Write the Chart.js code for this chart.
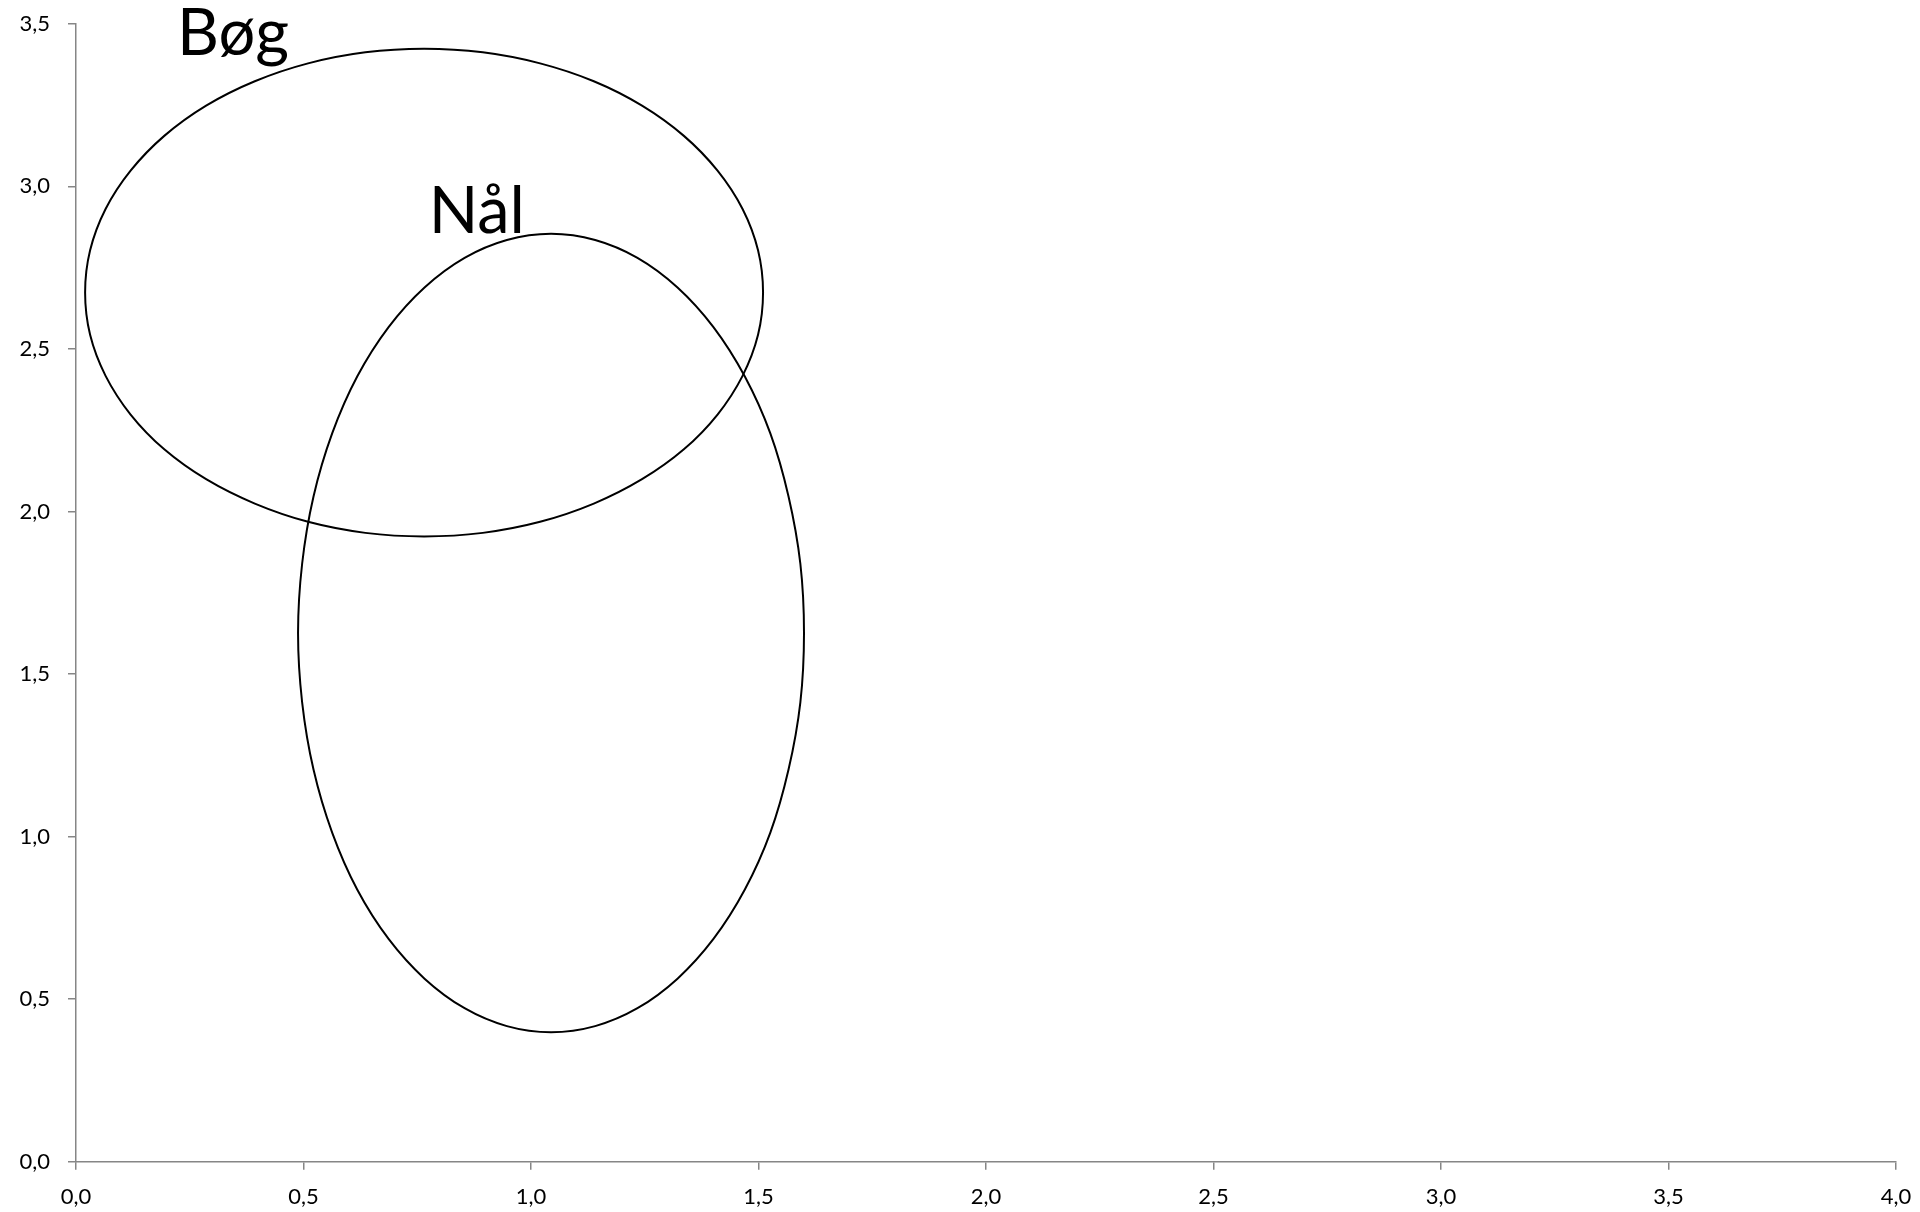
<!DOCTYPE html>
<html>
<head>
<meta charset="utf-8">
<script src="https://cdn.jsdelivr.net/npm/chart.js@4"></script>
<style>
html,body{margin:0;padding:0;background:#fff;}
#wrap{width:1920px;height:1212px;position:relative;}
</style>
</head>
<body>
<div id="wrap"><canvas id="c"></canvas></div>
<script>
// ---- data ----
const seriesNames = ['Bøg', 'Nål'];

// closed outlines (the last point joins back to the first)
const bogX = [1.510,1.499,1.465,1.410,1.336,1.244,1.138,1.020,0.894,0.765,0.636,0.510,0.393,0.286,0.194,0.120,0.065,0.031,0.020,0.031,0.065,0.120,0.194,0.286,0.393,0.510,0.636,0.765,0.894,1.020,1.138,1.244,1.336,1.410,1.465,1.499];
const bogY = [2.673,2.803,2.930,3.048,3.155,3.248,3.323,3.378,3.412,3.423,3.412,3.378,3.323,3.248,3.155,3.048,2.930,2.803,2.673,2.543,2.417,2.298,2.191,2.099,2.024,1.968,1.934,1.923,1.934,1.968,2.024,2.099,2.191,2.298,2.417,2.543];

const nalX = [1.600,1.592,1.566,1.526,1.470,1.401,1.322,1.234,1.141,1.044,0.947,0.854,0.766,0.687,0.618,0.563,0.522,0.497,0.488,0.497,0.522,0.563,0.618,0.687,0.766,0.854,0.947,1.044,1.141,1.234,1.322,1.401,1.470,1.526,1.566,1.592];
const nalY = [1.626,1.839,2.046,2.240,2.415,2.567,2.689,2.780,2.835,2.854,2.835,2.780,2.689,2.567,2.415,2.240,2.046,1.839,1.626,1.413,1.206,1.012,0.837,0.685,0.563,0.472,0.417,0.398,0.417,0.472,0.563,0.685,0.837,1.012,1.206,1.413];

const xTickLabels = ['0,0','0,5','1,0','1,5','2,0','2,5','3,0','3,5','4,0'];
const yTickLabels = ['0,0','0,5','1,0','1,5','2,0','2,5','3,0','3,5'];

// label anchors (data units)
const labelAnchorX = [0.222, 0.775];
const labelAnchorY = [3.404, 2.856];

// ---- chart ----
function pts(xs, ys){ return xs.map((x,i)=>({x:x, y:ys[i]})); }

const AXIS = '#868686';
const FONT = 'Lato, "Open Sans", sans-serif';

// make each outline a smooth closed loop
const closeLoopPlugin = {
  id: 'closeLoop',
  afterDatasetUpdate(chart, args){
    const meta = chart.getDatasetMeta(args.index);
    const line = meta.dataset;
    if (!line) return;
    line._loop = true;
    line._fullLoop = true;
    line._pointsUpdated = false;
    delete line._segments;
    delete line._path;
    if (chart.chartArea && line.updateControlPoints) {
      line.updateControlPoints(chart.chartArea, 'x');
    }
  }
};

const labelPlugin = {
  id: 'seriesLabels',
  afterDatasetsDraw(chart){
    const {ctx, scales:{x, y}} = chart;
    ctx.save();
    ctx.fillStyle = '#000';
    ctx.font = '65px ' + FONT;
    ctx.textAlign = 'left';
    ctx.textBaseline = 'alphabetic';
    seriesNames.forEach((n,i)=>{
      ctx.fillText(n, x.getPixelForValue(labelAnchorX[i]), y.getPixelForValue(labelAnchorY[i]));
    });
    ctx.restore();
  }
};

new Chart(document.getElementById('c'), {
  type: 'scatter',
  data: {
    datasets: [
      {label: seriesNames[0], data: pts(bogX, bogY), showLine: true, tension: 0.33,
       borderColor: '#000', borderWidth: 2, pointRadius: 0, fill: false},
      {label: seriesNames[1], data: pts(nalX, nalY), showLine: true, tension: 0.33,
       borderColor: '#000', borderWidth: 2, pointRadius: 0, fill: false}
    ]
  },
  options: {
    responsive: true,
    maintainAspectRatio: false,
    animation: false,
    layout: {padding: {top: 23.7, right: 24, left: 0, bottom: 0}, autoPadding: false},
    plugins: {legend: {display: false}, tooltip: {enabled: false}},
    scales: {
      x: {
        type: 'linear', min: 0, max: 4,
        afterFit(s){ s.height = 50.3; s.paddingLeft = 0; s.paddingRight = 0; },
        ticks: {stepSize: 0.5, color: '#000', font: {family: FONT, size: 22}, padding: 14,
                maxRotation: 0, autoSkip: false,
                callback: (v, i) => xTickLabels[i]},
        grid: {display: true, drawOnChartArea: false, drawTicks: true, tickLength: 8, color: AXIS, lineWidth: 1.5},
        border: {display: true, color: AXIS, width: 1.5}
      },
      y: {
        type: 'linear', min: 0, max: 3.5,
        afterFit(s){ s.width = 76; s.paddingTop = 0; s.paddingBottom = 0; },
        ticks: {stepSize: 0.5, color: '#000', font: {family: FONT, size: 22}, padding: 18,
                autoSkip: false,
                callback: (v, i) => yTickLabels[i]},
        grid: {display: true, drawOnChartArea: false, drawTicks: true, tickLength: 8, color: AXIS, lineWidth: 1.5},
        border: {display: true, color: AXIS, width: 1.5}
      }
    }
  },
  plugins: [closeLoopPlugin, labelPlugin]
});
</script>
</body>
</html>
